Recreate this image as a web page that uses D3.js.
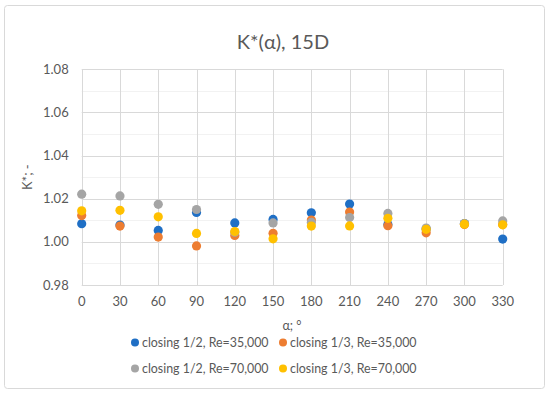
<!DOCTYPE html>
<html>
<head>
<meta charset="utf-8">
<script src="https://cdn.jsdelivr.net/npm/d3@7"></script>
<style>
  body { margin: 0; background: #fff; }
  svg text { font-family: Lato, "Open Sans", sans-serif; fill: #595959; }
</style>
</head>
<body>
<svg id="chart" width="550" height="394"></svg>
<script>
// angle positions, degrees
var angles = [0, 30, 60, 90, 120, 150, 180, 210, 240, 270, 300, 330];

// K* values, one list per series
var half35  = [1.0084, 1.0078, 1.0053, 1.0136, 1.0088, 1.0104, 1.0135, 1.0175, 1.0080, 1.0060, 1.0085, 1.0013];
var third35 = [1.0122, 1.0073, 1.0022, 0.9981, 1.0030, 1.0040, 1.0101, 1.0138, 1.0075, 1.0042, 1.0080, 1.0080];
var half70  = [1.0221, 1.0213, 1.0174, 1.0150, 1.0045, 1.0088, 1.0090, 1.0113, 1.0132, 1.0064, 1.0085, 1.0097];
var third70 = [1.0144, 1.0146, 1.0116, 1.0039, 1.0048, 1.0014, 1.0073, 1.0074, 1.0109, 1.0058, 1.0082, 1.0079];

var seriesNames = ["closing 1/2, Re=35,000", "closing 1/3, Re=35,000", "closing 1/2, Re=70,000", "closing 1/3, Re=70,000"];
var seriesColors = ["#1f6fc5", "#ed7d31", "#a5a5a5", "#ffc000"];
var seriesValues = [half35, third35, half70, third70];

var yTicks = [0.98, 1.00, 1.02, 1.04, 1.06, 1.08];

var svg = d3.select("#chart");

// chart frame
svg.append("rect")
  .attr("x", 4.5).attr("y", 5.5)
  .attr("width", 540).attr("height", 383)
  .attr("rx", 3)
  .attr("fill", "#fff")
  .attr("stroke", "#d9d9d9");

var x = d3.scaleLinear().domain([0, 330]).range([81.7, 502.7]);
var y = d3.scaleLinear().domain([0.98, 1.08]).range([285, 69.3]);

// minor gridlines
svg.append("g")
  .selectAll("line")
  .data(d3.range(0.99, 1.08, 0.02))
  .join("line")
  .attr("x1", x(0)).attr("x2", x(330))
  .attr("y1", d => Math.round(y(d)) + 0.5).attr("y2", d => Math.round(y(d)) + 0.5)
  .attr("stroke", "#f2f2f2");

// major gridlines, horizontal
svg.append("g")
  .selectAll("line")
  .data(yTicks)
  .join("line")
  .attr("x1", x(0)).attr("x2", x(330))
  .attr("y1", d => Math.round(y(d)) + 0.5).attr("y2", d => Math.round(y(d)) + 0.5)
  .attr("stroke", "#d9d9d9");

// vertical gridlines
svg.append("g")
  .selectAll("line")
  .data(angles)
  .join("line")
  .attr("x1", d => Math.round(x(d)) + 0.5).attr("x2", d => Math.round(x(d)) + 0.5)
  .attr("y1", y(0.98)).attr("y2", y(1.08))
  .attr("stroke", "#d9d9d9");

// tick labels
svg.append("g")
  .selectAll("text")
  .data(yTicks)
  .join("text")
  .attr("x", x(0) - 13)
  .attr("y", d => y(d) + 4.5)
  .attr("text-anchor", "end")
  .attr("font-size", 13)
  .text(d => d.toFixed(2));

svg.append("g")
  .selectAll("text")
  .data(angles)
  .join("text")
  .attr("x", d => x(d))
  .attr("y", y(0.98) + 21)
  .attr("text-anchor", "middle")
  .attr("font-size", 13)
  .text(d => d);

// titles
svg.append("text")
  .attr("x", 283).attr("y", 49)
  .attr("text-anchor", "middle")
  .attr("font-size", 20)
  .text("K*(α), 15D");

svg.append("text")
  .attr("transform", "translate(32," + y(1.03) + ") rotate(-90)")
  .attr("text-anchor", "middle")
  .attr("font-size", 13)
  .text("K*; -");

svg.append("text")
  .attr("x", 292).attr("y", 330)
  .attr("text-anchor", "middle")
  .attr("font-size", 12.5)
  .text("α; °");

// points
seriesValues.forEach(function(vals, i) {
  svg.append("g")
    .selectAll("circle")
    .data(vals)
    .join("circle")
    .attr("cx", (d, j) => x(angles[j]))
    .attr("cy", d => y(d))
    .attr("r", 4.6)
    .attr("fill", seriesColors[i]);
});

// legend
var legendPos = [[135, 342.5], [283, 342.5], [135, 368.5], [283, 368.5]];
var legend = svg.append("g")
  .selectAll("g")
  .data(seriesNames)
  .join("g")
  .attr("transform", (d, i) => "translate(" + legendPos[i][0] + "," + legendPos[i][1] + ")");

legend.append("circle")
  .attr("r", 4)
  .attr("fill", (d, i) => seriesColors[i]);

legend.append("text")
  .attr("x", 7)
  .attr("y", 4.5)
  .attr("font-size", 12.4)
  .text(d => d);
</script>
</body>
</html>
